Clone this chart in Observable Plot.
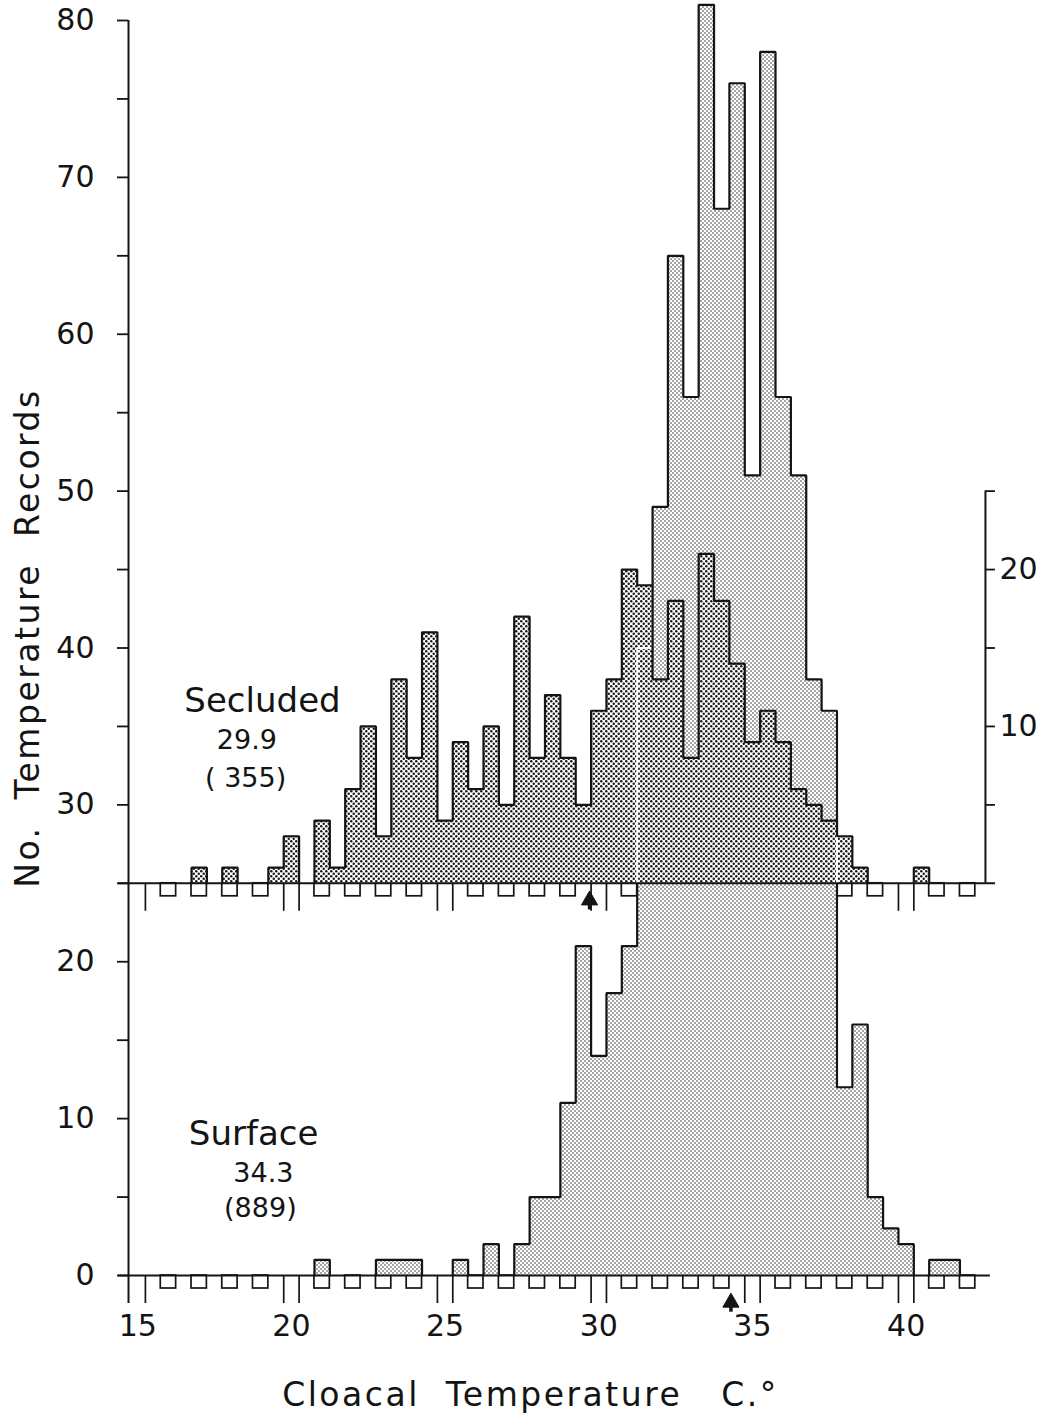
<!DOCTYPE html>
<html>
<head>
<meta charset="utf-8">
<script src="https://cdn.jsdelivr.net/npm/d3@7"></script>
<script src="https://cdn.jsdelivr.net/npm/@observablehq/plot@0.6"></script>
<style>
  html, body { margin: 0; padding: 0; background: #fff; }
  #chart svg { display: block; }
  /* the two axis titles are the only text drawn at 33px */
  #chart g[font-size="33"], #chart g[font-size="33"] text { letter-spacing: 2.5px; }
</style>
</head>
<body>
<div id="chart"></div>
<script>
// ---------------- data ----------------
// 0.5 °C bins (bin centres), counts of temperature records
const surfaceBins   = [21, 23, 23.5, 24, 25.5, 26.5, 27.5, 28, 28.5, 29, 29.5, 30, 30.5, 31, 31.5, 32, 32.5, 33, 33.5, 34, 34.5, 35, 35.5, 36, 36.5, 37, 37.5, 38, 38.5, 39, 39.5, 40, 41, 41.5];
const surfaceCounts = [1, 1, 1, 1, 1, 2, 2, 5, 5, 11, 21, 14, 18, 21, 40, 49, 65, 56, 81, 68, 76, 51, 78, 56, 51, 38, 36, 12, 16, 5, 3, 2, 1, 1];
const secludedBins   = [17, 18, 19.5, 20, 21, 21.5, 22, 22.5, 23, 23.5, 24, 24.5, 25, 25.5, 26, 26.5, 27, 27.5, 28, 28.5, 29, 29.5, 30, 30.5, 31, 31.5, 32, 32.5, 33, 33.5, 34, 34.5, 35, 35.5, 36, 36.5, 37, 37.5, 38, 38.5, 40.5];
const secludedCounts = [1, 1, 1, 3, 4, 1, 6, 10, 3, 13, 8, 16, 4, 9, 6, 10, 5, 17, 8, 12, 8, 5, 11, 13, 20, 19, 13, 18, 8, 21, 18, 14, 9, 11, 9, 6, 5, 4, 3, 1, 1];

const groupNames  = ["Secluded", "Surface"];
const groupMeans  = ["29.9", "34.3"];
const groupTotals = ["( 355)", "(889)"];
const meanArrowAt = [29.7, 34.3];          // arrow positions as drawn

const xTickValues      = [15, 20, 25, 30, 35, 40];
const yTickValues      = [0, 5, 10, 15, 20, 25, 30, 35, 40, 45, 50, 55, 60, 65, 70, 75, 80];
const yLabelValues     = [0, 10, 20, 30, 40, 50, 60, 70, 80];
const rightTickValues  = [5, 10, 15, 20, 25];
const rightLabelValues = [10, 20];
const markerBins = [16, 17, 18, 19, 21, 22, 23, 24, 26, 27, 28, 29, 31, 32, 33, 34, 36, 37, 38, 39, 41, 42];
const splitBins  = [15, 20, 25, 30, 35, 40];
const xTitle = "Cloacal  Temperature   C.°";
const yTitle = "No.  Temperature  Records";

// ---------------- layout ----------------
const secludedOffset = 25;      // secluded histogram sits on the 25 line
const half = 0.25;              // half bin width
const W = 1042, H = 1416;
const mL = 128, mR = 38, mT = 20, mB = 141;
const xDom = [14.7, 43.2], yDom = [0, 80];
const pxX = (xDom[1] - xDom[0]) / (W - mL - mR);   // data units per px
const pxY = (yDom[1] - yDom[0]) / (H - mT - mB);
const axisX = xDom[0];
const rightAxisX = 42.58;
const baseLeft = 14.375, baseRightLow = 42.74, baseRightHigh = 42.91;
const FONT = "DejaVu Sans";
const bases = [secludedOffset, 0];
const arrowDrop = [1.08, 1.72];

// ---------------- derived geometry ----------------
function runs(bins, counts) {
  const out = []; let cur = null;
  bins.forEach((b, i) => {
    if (cur && Math.abs(b - cur[cur.length - 1].bin - 2 * half) < 1e-9) cur.push({bin: b, v: counts[i]});
    else { cur = [{bin: b, v: counts[i]}]; out.push(cur); }
  });
  return out;
}
function outline(bins, counts, base) {
  const pts = [];
  runs(bins, counts).forEach((run, r) => {
    pts.push({x: run[0].bin - half, y: base, run: r});
    run.forEach(d => {
      pts.push({x: d.bin - half, y: base + d.v, run: r});
      pts.push({x: d.bin + half, y: base + d.v, run: r});
    });
    pts.push({x: run[run.length - 1].bin + half, y: base, run: r});
  });
  return pts;
}
const surfPts = outline(surfaceBins, surfaceCounts, 0);
const secPts  = outline(secludedBins, secludedCounts, secludedOffset);

// parts of the surface outline that lie inside the secluded histogram (drawn white)
const sMap = new Map(surfaceBins.map((b, i) => [b, surfaceCounts[i]]));
const cMap = new Map(secludedBins.map((b, i) => [b, secludedCounts[i]]));
const sv = b => sMap.get(b) || 0, cv = b => cMap.get(b) || 0;
const whiteSegs = [];
surfaceBins.forEach((b, i) => {
  const s = surfaceCounts[i], c = cv(b);
  if (c > 0 && s > secludedOffset && s < secludedOffset + c)
    whiteSegs.push({x1: b - half, x2: b + half, y1: s, y2: s});
});
const edges = new Set();
surfaceBins.forEach(b => { edges.add(b - half); edges.add(b + half); });
for (const e of edges) {
  const a = e - half, b = e + half;
  const lo = Math.min(sv(a), sv(b)), hi = Math.max(sv(a), sv(b));
  const cmax = Math.max(cv(a), cv(b));
  const y1 = Math.max(secludedOffset, lo), y2 = Math.min(hi, secludedOffset + cmax);
  if (cmax > 0 && y2 > y1) whiteSegs.push({x1: e, x2: e, y1, y2});
}

const markers = bases.flatMap(base => markerBins.map(k => ({k, base})));
const splitTicks = bases.flatMap(base => splitBins.flatMap(k =>
  (k === 15 ? [k + half] : [k - half, k + half]).map(x => ({x, base}))));

const defsMark = () => {
  const defs = d3.create("svg:defs");
  const p1 = defs.append("pattern").attr("id", "surfDots").attr("width", 4).attr("height", 4)
    .attr("patternUnits", "userSpaceOnUse");
  p1.append("rect").attr("width", 4).attr("height", 4).attr("fill", "#fff");
  p1.append("circle").attr("cx", 1).attr("cy", 1).attr("r", 0.8).attr("fill", "#333");
  p1.append("circle").attr("cx", 3).attr("cy", 3).attr("r", 0.8).attr("fill", "#333");
  const p2 = defs.append("pattern").attr("id", "secDots").attr("width", 5).attr("height", 5)
    .attr("patternUnits", "userSpaceOnUse");
  p2.append("rect").attr("width", 5).attr("height", 5).attr("fill", "#fff");
  p2.append("circle").attr("cx", 1.25).attr("cy", 1.25).attr("r", 1.25).attr("fill", "#1a1a1a");
  p2.append("circle").attr("cx", 3.75).attr("cy", 3.75).attr("r", 1.25).attr("fill", "#1a1a1a");
  return defs.node();
};

const INK = "#141414";
const annot = [
  {text: groupNames[0],  x: 19.06, y: 35.89, size: 34},
  {text: groupMeans[0],  x: 18.55, y: 33.59, size: 27},
  {text: groupTotals[0], x: 18.51, y: 31.17, size: 27},
  {text: groupNames[1],  x: 18.77, y: 8.29,  size: 34},
  {text: groupMeans[1],  x: 19.09, y: 5.93,  size: 27},
  {text: groupTotals[1], x: 18.99, y: 3.70,  size: 27}
];
const arrows = meanArrowAt.map((x, i) => ({x, base: bases[i], drop: arrowDrop[i]}));

const chart = Plot.plot({
  width: W, height: H,
  marginLeft: mL, marginRight: mR, marginTop: mT, marginBottom: mB,
  x: {domain: xDom, axis: null},
  y: {domain: yDom, axis: null},
  style: {background: "#fff", fontFamily: FONT, color: INK},
  marks: [
    defsMark,
    // bin markers below both baselines
    Plot.rect(markers, {x1: d => d.k - half, x2: d => d.k + half, y1: d => d.base, y2: d => d.base - 13 * pxY,
      fill: "none", stroke: INK, strokeWidth: 1.7}),
    Plot.ruleX(splitTicks, {x: "x", y1: d => d.base, y2: d => d.base - 28 * pxY, stroke: INK, strokeWidth: 1.7}),
    // surface histogram
    Plot.area(surfPts, {x1: "x", y1: 0, y2: "y", z: "run", fill: "url(#surfDots)", curve: "linear"}),
    Plot.line(surfPts, {x: "x", y: "y", z: "run", stroke: INK, strokeWidth: 2.2, curve: "linear", strokeLinejoin: "miter"}),
    // secluded histogram
    Plot.area(secPts, {x1: "x", y1: secludedOffset, y2: "y", z: "run", fill: "url(#secDots)", curve: "linear"}),
    Plot.link(whiteSegs, {x1: "x1", x2: "x2", y1: "y1", y2: "y2", stroke: "#fff", strokeWidth: 2}),
    Plot.line(secPts, {x: "x", y: "y", z: "run", stroke: INK, strokeWidth: 2.2, curve: "linear", strokeLinejoin: "miter"}),
    // baselines
    Plot.ruleY([0], {x1: baseLeft, x2: baseRightLow, stroke: INK, strokeWidth: 2}),
    Plot.ruleY([secludedOffset], {x1: baseLeft, x2: baseRightHigh, stroke: INK, strokeWidth: 2}),
    // left axis
    Plot.ruleX([axisX], {y1: -28 * pxY, y2: yDom[1], stroke: INK, strokeWidth: 2}),
    Plot.ruleY(yTickValues, {y: d => d, x1: axisX - 11 * pxX, x2: axisX, stroke: INK, strokeWidth: 1.8}),
    Plot.text(yLabelValues, {x: axisX, y: d => d, text: d => String(d), textAnchor: "end", dx: -34,
      fontSize: 30, fill: INK, lineAnchor: "middle"}),
    // right axis (secluded scale)
    Plot.ruleX([rightAxisX], {y1: secludedOffset, y2: secludedOffset + rightTickValues[rightTickValues.length - 1], stroke: INK, strokeWidth: 2}),
    Plot.ruleY(rightTickValues, {y: d => secludedOffset + d, x1: rightAxisX, x2: rightAxisX + 10 * pxX, stroke: INK, strokeWidth: 1.8}),
    Plot.text(rightLabelValues, {x: rightAxisX, y: d => secludedOffset + d, text: d => String(d), textAnchor: "start", dx: 14,
      fontSize: 30, fill: INK, lineAnchor: "middle"}),
    // x tick labels
    Plot.text(xTickValues, {x: d => d, y: 0, text: d => String(d), dy: 51, fontSize: 30, fill: INK, lineAnchor: "middle"}),
    // mean arrows
    Plot.ruleX(arrows, {x: "x", y1: d => d.base - d.drop, y2: d => d.base - d.drop - 0.62, stroke: INK, strokeWidth: 3.5}),
    Plot.dot(arrows, {x: "x", y: d => d.base - d.drop, symbol: "triangle", r: 6, fill: INK, stroke: INK, strokeWidth: 1}),
    // annotations
    Plot.text(annot, {x: "x", y: "y", text: "text", fontSize: d => d.size, fill: INK, lineAnchor: "bottom"}),
    // titles (33px)
    Plot.text([xTitle], {frameAnchor: "bottom", textAnchor: "middle", dx: -36, dy: 130, fontSize: 33, fill: INK,
      lineAnchor: "bottom"}),
    Plot.text([yTitle], {frameAnchor: "left", textAnchor: "middle", dx: -100, dy: -10, rotate: -90, fontSize: 33, fill: INK,
      lineAnchor: "middle"})
  ]
});
document.getElementById("chart").appendChild(chart);
</script>
</body>
</html>
